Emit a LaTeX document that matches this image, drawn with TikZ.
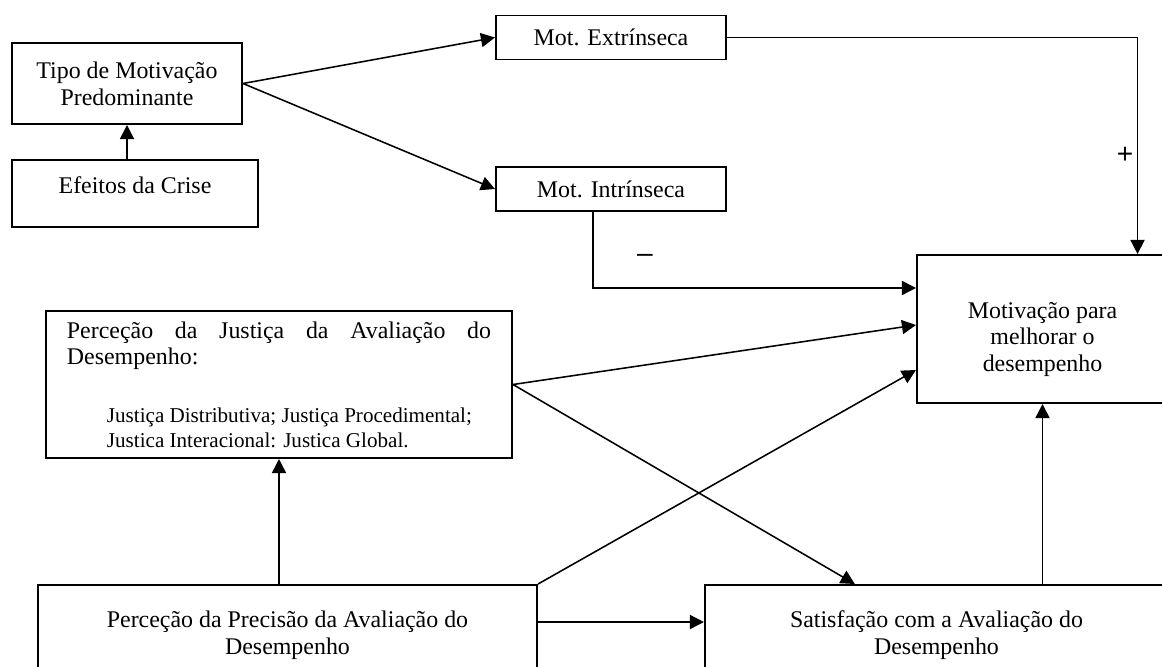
\documentclass[tikz,border=0pt]{standalone}
\usepackage{fontspec}
\setmainfont{Liberation Serif}
\newfontfamily\signfont{Liberation Sans}
\usetikzlibrary{arrows.meta}

\begin{document}
\begin{tikzpicture}[x=0.025cm,y=-0.025cm,
  box/.style={draw,line width=1.4pt,align=center,inner sep=2pt,
    font=\fontsize{17}{19}\selectfont},
  sign/.style={font=\signfont\fontsize{20}{22}\selectfont},
  arr/.style={line width=1.1pt,-{Triangle[length=10pt,width=10pt]}}]

\useasboundingbox (0,0) rectangle (1162,666);
\clip (0,0) rectangle (1162,666);

% motivation types
\node[box,minimum width=5.75cm,minimum height=2.025cm] (tipo) at (127,83.5)
  {Tipo de Motivação\\Predominante};
\node[box,minimum width=6.15cm,minimum height=1.675cm,text depth=12.5pt] (crise) at (135,193.5)
  {Efeitos da Crise};
\node[box,minimum width=5.75cm,minimum height=1.1cm] (extr) at (611,37.5)
  {Mot. Extrínseca};
\node[box,minimum width=5.75cm,minimum height=1.1cm] (intr) at (611,189)
  {Mot. Intrínseca};
\node[box,minimum width=6.275cm,minimum height=3.7cm] (motiv) at (1042.5,329)
  {\rule{0pt}{26pt}Motivação para\\melhorar o\\desempenho};

% appraisal
\node[box,minimum width=11.65cm,minimum height=3.675cm,text width=10.6cm,
  align=justify,inner xsep=0.5cm] (just) at (279,384.5)
  {\setlength{\parindent}{0pt}Perceção da Justiça da Avaliação do\linebreak Desempenho:\par
   \vspace{0.8cm}
   {\fontsize{15}{17.8}\selectfont\leftskip=1cm
   Justiça Distributiva; Justiça Procedimental;\\
   Justica Interacional: Justica Global.\par}
   \vspace*{0.3cm}};
\node[box,minimum width=12.475cm,minimum height=2.5cm] (prec) at (287.5,635)
  {Perceção da Precisão da Avaliação do\\Desempenho};
\node[box,minimum width=11.575cm,minimum height=2.5cm] (satis) at (936.5,635)
  {Satisfação com a Avaliação do\\Desempenho};

\node[sign] (plus) at (1125,155) {+};
\node[sign] (minus) at (645,258) {–};

\draw[arr] (crise.north -| tipo.south) -- (tipo.south);
\draw[arr] (tipo.east) -- (extr.west);
\draw[arr] (tipo.east) -- (intr.west);
\draw[arr] (extr.east) -| ([xshift=2.375cm]motiv.north);
\draw[arr] ([xshift=-0.45cm]intr.south) |- ([yshift=1.025cm]motiv.west);
\draw[arr] (just.east) -- ([yshift=0.1cm]motiv.west);
\draw[arr] (just.east) -- ([xshift=-2.04cm]satis.north);
\draw[arr] (just.south |- prec.north) -- (just.south);
\draw[arr] (prec.north east) -- ([yshift=-1.025cm]motiv.west);
\draw[arr] ([yshift=0.325cm]prec.east) -- ([yshift=0.325cm]satis.west);
\draw[arr] (motiv.south |- satis.north) -- (motiv.south);

\end{tikzpicture}
\end{document}
